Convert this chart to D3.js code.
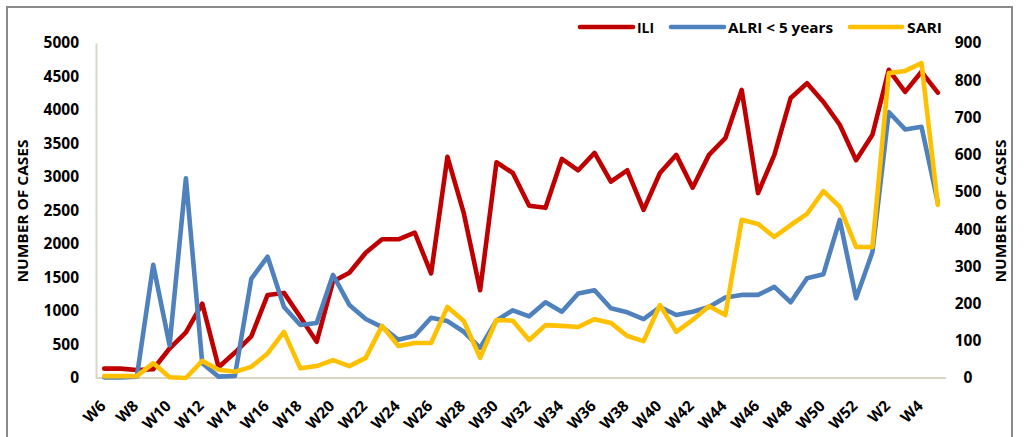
<!DOCTYPE html>
<html>
<head>
<meta charset="utf-8">
<script src="https://cdn.jsdelivr.net/npm/d3@7/dist/d3.min.js"></script>
<style>
  html, body { margin: 0; padding: 0; background: #fff; }
  svg { display: block; font-family: "Open Sans", "Liberation Sans", sans-serif; }
</style>
</head>
<body>
<svg id="chart" width="1032" height="437"></svg>
<script>
// ---- data ----
const weeks = ["W6","W7","W8","W9","W10","W11","W12","W13","W14","W15","W16","W17","W18","W19","W20","W21","W22","W23","W24","W25","W26","W27","W28","W29","W30","W31","W32","W33","W34","W35","W36","W37","W38","W39","W40","W41","W42","W43","W44","W45","W46","W47","W48","W49","W50","W51","W52","W1","W2","W3","W4","W5"];
const ili  = [140,140,120,130,440,680,1110,160,380,620,1240,1270,910,540,1440,1570,1870,2070,2070,2170,1560,3300,2460,1310,3220,3060,2570,2540,3270,3100,3360,2930,3100,2510,3060,3330,2840,3330,3580,4300,2760,3330,4180,4400,4120,3780,3250,3630,4600,4270,4570,4260];
const alri = [10,10,20,1690,490,2980,220,20,30,1480,1810,1060,790,820,1540,1090,880,760,570,630,900,850,690,450,860,1010,920,1130,990,1260,1310,1040,980,880,1060,940,990,1060,1200,1240,1240,1360,1130,1490,1550,2360,1190,1880,3970,3710,3750,2620];
const sari = [5,5,5,40,2,0,46,22,17,30,66,124,26,32,48,32,54,140,86,94,94,191,153,54,156,154,102,142,140,137,158,148,113,99,196,124,156,193,169,425,414,379,411,441,502,460,352,352,819,825,846,465];
const leftTicks  = [0,500,1000,1500,2000,2500,3000,3500,4000,4500,5000];
const rightTicks = [0,100,200,300,400,500,600,700,800,900];
const xTickLabels = weeks.filter((w, i) => i % 2 === 0);
const seriesNames = ["ILI", "ALRI < 5 years", "SARI"];
const seriesColors = ["#C00000", "#4F81BD", "#FFC000"];
const axisTitle = "NUMBER OF CASES";

// ---- layout ----
const svg = d3.select("#chart");
const plot = { left: 96, right: 946, top: 43, bottom: 378 };
const axisColor = "#D9D6C4";

svg.append("rect")
  .attr("x", 7).attr("y", 7).attr("width", 1005).attr("height", 445)
  .attr("fill", "#fff").attr("stroke", "#8a8a8a").attr("stroke-width", 2);

const x = d3.scalePoint().domain(weeks).range([plot.left, plot.right]).padding(0.5);
const yL = d3.scaleLinear().domain([0, 5000]).range([plot.bottom, plot.top]);
const yR = d3.scaleLinear().domain([0, 900]).range([plot.bottom, plot.top]);

// left axis
const gL = svg.append("g").attr("transform", `translate(${plot.left},0)`)
  .call(d3.axisLeft(yL).tickValues(leftTicks).tickSize(0).tickPadding(17).tickFormat(d3.format("d")));
gL.select(".domain").attr("stroke", axisColor).attr("stroke-width", 2);
gL.selectAll("text").attr("font-size", 15.5).attr("font-weight", 700).attr("fill", "#000")
  .attr("font-family", "'Open Sans', sans-serif");

// right axis
const gR = svg.append("g").attr("transform", `translate(${plot.right},0)`)
  .call(d3.axisRight(yR).tickValues(rightTicks).tickSize(0).tickPadding(22).tickFormat(d3.format("d")));
gR.select(".domain").remove();
gR.selectAll("text").attr("font-size", 15.5).attr("font-weight", 700).attr("fill", "#000")
  .attr("text-anchor", "middle").attr("font-family", "'Open Sans', sans-serif");

// bottom axis
const gB = svg.append("g").attr("transform", `translate(0,${plot.bottom})`)
  .call(d3.axisBottom(x).tickValues(xTickLabels).tickSize(0).tickSizeOuter(0));
gB.select(".domain").attr("stroke", axisColor).attr("stroke-width", 2)
  .attr("d", `M${plot.left},0H${plot.right}`);
gB.selectAll(".tick text")
  .attr("font-size", 15.5).attr("font-weight", 700).attr("fill", "#000")
  .attr("font-family", "'Open Sans', sans-serif")
  .attr("text-anchor", "end").attr("dy", null)
  .attr("y", 0)
  .attr("transform", "translate(2,29) rotate(-45)");

// axis titles
svg.append("text")
  .attr("transform", "translate(28,211) rotate(-90)")
  .attr("text-anchor", "middle").attr("font-size", 13.5).attr("font-weight", 700)
  .attr("textLength", 143).attr("lengthAdjust", "spacingAndGlyphs")
  .text(axisTitle);
svg.append("text")
  .attr("transform", "translate(1006,211) rotate(-90)")
  .attr("text-anchor", "middle").attr("font-size", 13.5).attr("font-weight", 700)
  .attr("textLength", 143).attr("lengthAdjust", "spacingAndGlyphs")
  .text(axisTitle);

// lines
const data = [
  { vals: ili,  y: yL },
  { vals: alri, y: yL },
  { vals: sari, y: yR }
];
data.forEach((s, k) => {
  const line = d3.line().x((d, i) => x(weeks[i])).y(d => s.y(d));
  svg.append("path")
    .datum(s.vals)
    .attr("d", line)
    .attr("fill", "none")
    .attr("stroke", seriesColors[k])
    .attr("stroke-width", 4.6)
    .attr("stroke-linejoin", "round")
    .attr("stroke-linecap", "round");
});

// legend
const legendItems = [
  { x1: 580, x2: 633, tx: 637, tw: 17 },
  { x1: 671, x2: 724, tx: 728, tw: 105 },
  { x1: 850, x2: 902, tx: 907, tw: 35 }
];
legendItems.forEach((it, k) => {
  svg.append("line")
    .attr("x1", it.x1).attr("x2", it.x2).attr("y1", 27).attr("y2", 27)
    .attr("stroke", seriesColors[k]).attr("stroke-width", 4.6).attr("stroke-linecap", "round");
  svg.append("text")
    .attr("x", it.tx).attr("y", 32.5)
    .attr("font-size", 15).attr("font-weight", 700)
    .attr("textLength", it.tw).attr("lengthAdjust", "spacingAndGlyphs")
    .text(seriesNames[k]);
});
</script>
</body>
</html>
